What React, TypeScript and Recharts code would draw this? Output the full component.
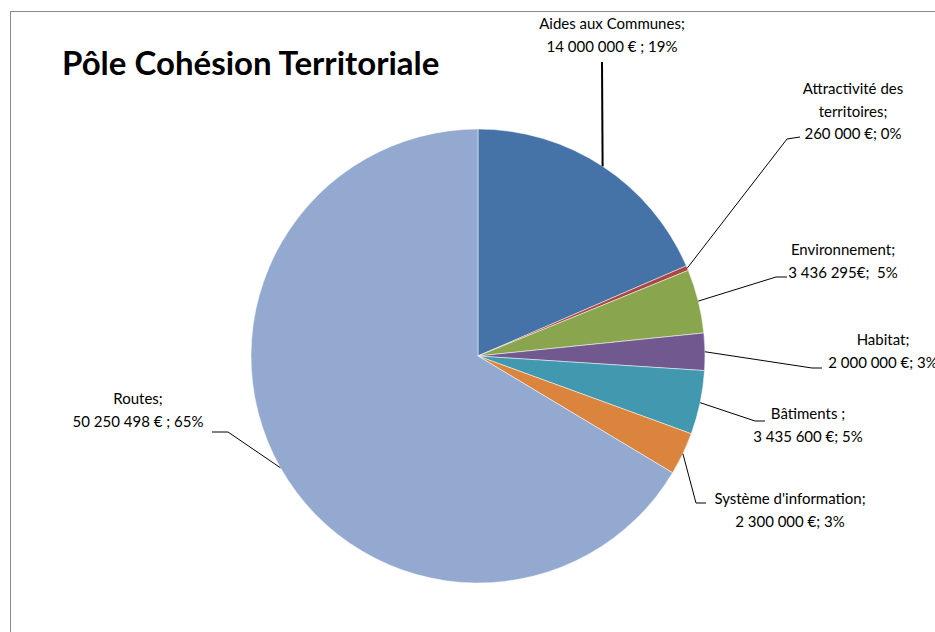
import { PieChart, Pie, Cell } from "recharts";

const categories = [
  "Aides aux Communes",
  "Attractivité des territoires",
  "Environnement",
  "Habitat",
  "Bâtiments",
  "Système d'information",
  "Routes",
];
const amounts = [14000000, 260000, 3436295, 2000000, 3435600, 2300000, 50250498];
const labelLines = [
  ["Aides aux Communes;", "14 000 000 € ; 19%"],
  ["Attractivité des", "territoires;", "260 000 €; 0%"],
  ["Environnement;", "3 436 295€;  5%"],
  ["Habitat;", "2 000 000 €; 3%"],
  ["Bâtiments ;", "3 435 600 €; 5%"],
  ["Système d'information;", "2 300 000 €; 3%"],
  ["Routes;", "50 250 498 € ; 65%"],
];
const colors = ["#4572A7", "#AA4643", "#89A54E", "#71588F", "#4198AF", "#DB843D", "#93A9CF"];

const data = categories.map((name, i) => ({ name, value: amounts[i] }));

// label placement, offsets from the pie centre: text centre, then leader bends
const labelLayout = [
  { tx: 134, ty: -332, pts: [[124, -294]] },
  { tx: 375, ty: -267, pts: [[309, -217], [322, -219]] },
  { tx: 365, ty: -106, pts: [[298, -79], [309, -79]] },
  { tx: 405, ty: -16, pts: [[334, 12], [344, 12]] },
  { tx: 330, ty: 58, pts: [[277, 65], [287, 65]] },
  { tx: 312, ty: 143, pts: [[218, 147], [228, 147]] },
  { tx: -340, ty: 43, pts: [[-250, 76], [-266, 76]] },
];

const FONT = "Lato, 'Open Sans', sans-serif";
const RAD = Math.PI / 180;

const renderLabel = (props: any) => {
  const { cx, cy, midAngle, outerRadius, index } = props;
  const lay = labelLayout[index];
  const sx = cx + outerRadius * Math.cos(-midAngle * RAD);
  const sy = cy + outerRadius * Math.sin(-midAngle * RAD);
  const pts = [[sx, sy], ...lay.pts.map(([x, y]) => [cx + x, cy + y])];
  return (
    <g key={`lbl-${index}`}>
      <polyline
        points={pts.map((p) => p.join(",")).join(" ")}
        fill="none"
        stroke="#000"
        strokeWidth={index === 0 ? 2 : 1}
      />
      {labelLines[index].map((t, j) => (
        <text
          key={j}
          x={cx + lay.tx}
          y={cy + lay.ty + j * 22.5 + 5}
          textAnchor="middle"
          fontFamily={FONT}
          fontSize={15}
          fill="#000"
          style={{ whiteSpace: "pre" }}
        >
          {t}
        </text>
      ))}
    </g>
  );
};

export default function App() {
  return (
    <div
      style={{
        position: "fixed",
        left: 0,
        top: 0,
        width: 935,
        height: 632,
        overflow: "hidden",
        background: "#fff",
      }}
    >
      <div
        style={{
          position: "absolute",
          left: 10,
          top: 11,
          width: 2000,
          height: 2000,
          border: "1px solid #8a8a8a",
        }}
      />
      <div
        style={{
          position: "absolute",
          left: 62,
          top: 42,
          fontFamily: FONT,
          fontWeight: 700,
          fontSize: 33,
          color: "#000",
          whiteSpace: "nowrap",
        }}
      >
        Pôle Cohésion Territoriale
      </div>
      <div style={{ position: "absolute", left: 0, top: 0 }}>
        <PieChart width={935} height={632} margin={{ top: 0, right: 0, bottom: 0, left: 0 }}>
          <Pie
            data={data}
            dataKey="value"
            nameKey="name"
            cx={478}
            cy={356}
            outerRadius={227}
            startAngle={90}
            endAngle={-270}
            stroke="#fff"
            strokeWidth={0.5}
            label={renderLabel}
            labelLine={false}
            isAnimationActive={false}
          >
            {data.map((d, i) => (
              <Cell key={d.name} fill={colors[i]} />
            ))}
          </Pie>
        </PieChart>
      </div>
    </div>
  );
}
